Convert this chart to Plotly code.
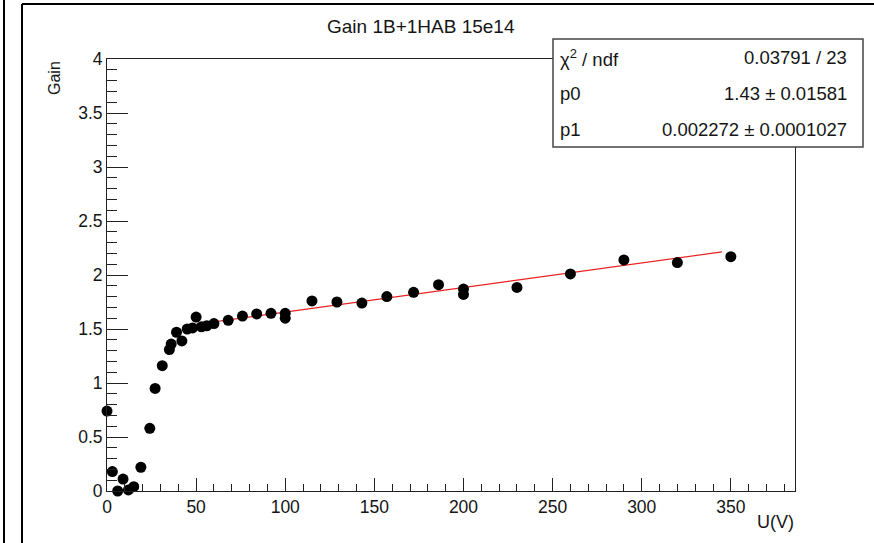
import plotly.graph_objects as go
import numpy as np

# ---- data ----
voltage = [0, 3, 6, 9, 12, 15, 19, 24, 27, 31, 35, 36, 39, 42, 45, 48, 50, 53, 56, 60,
           68, 76, 84, 92, 100, 100, 115, 129, 143, 157, 172, 186, 200, 200, 230, 260,
           290, 320, 350]
gain = [0.74, 0.18, 0.00, 0.11, 0.01, 0.04, 0.22, 0.58, 0.95, 1.16, 1.31, 1.36, 1.47,
        1.39, 1.50, 1.51, 1.61, 1.52, 1.53, 1.55, 1.58, 1.62, 1.64, 1.645, 1.645, 1.60,
        1.76, 1.75, 1.74, 1.80, 1.84, 1.91, 1.87, 1.82, 1.885, 2.01, 2.14, 2.115, 2.17]

fit_p0 = 1.43
fit_p1 = 0.002272
fit_range = [48, 345]

title_text = "Gain 1B+1HAB 15e14"
stat_labels = ["χ<sup>2</sup> / ndf", "p0", "p1"]
stat_values = ["0.03791 / 23", "1.43 ± 0.01581", "0.002272 ± 0.0001027"]

x_range = [0, 386]
y_range = [0, 4]

# ---- layout constants (pixels) ----
W, H = 874, 543
L, R, T, B = 107, 795, 59, 491
pw, ph = R - L, B - T


def px_x(p):
    return (p - L) / pw


def px_y(p):
    return (B - p) / ph


FONT = "Liberation Sans, Arial, Helvetica, sans-serif"
TXT = "#151515"

fig = go.Figure()

fx = np.linspace(fit_range[0], fit_range[1], 50)
fig.add_trace(go.Scatter(x=fx, y=fit_p0 + fit_p1 * fx, mode="lines",
                         line=dict(color="#e8211f", width=1.2),
                         hoverinfo="skip", showlegend=False))
fig.add_trace(go.Scatter(x=voltage, y=gain, mode="markers", cliponaxis=False,
                         marker=dict(color="black", size=11),
                         showlegend=False))

axis_common = dict(showgrid=False, zeroline=False, showline=True, linecolor="#222",
                   linewidth=1, mirror=True, ticks="inside", tickcolor="#222",
                   tickfont=dict(family=FONT, size=17.5, color=TXT))

fig.update_xaxes(range=x_range, tickvals=[0, 50, 100, 150, 200, 250, 300, 350],
                 ticklen=13, tickwidth=1,
                 minor=dict(dtick=10, tick0=0, ticklen=7, ticks="inside", tickcolor="#222"),
                 **axis_common)
fig.update_yaxes(range=y_range, tickvals=[0, 0.5, 1, 1.5, 2, 2.5, 3, 3.5, 4],
                 ticktext=["0", "0.5", "1", "1.5", "2", "2.5", "3", "3.5", "4"],
                 ticklen=21, tickwidth=1,
                 minor=dict(dtick=0.1, tick0=0, ticklen=10, ticks="inside", tickcolor="#222"),
                 **axis_common)

shapes = [
    # outer canvas frame
    dict(type="line", xref="paper", yref="paper", x0=px_x(4), x1=px_x(4),
         y0=px_y(0), y1=px_y(H), line=dict(color="black", width=2)),
    dict(type="line", xref="paper", yref="paper", x0=px_x(22), x1=px_x(22),
         y0=px_y(4), y1=px_y(H), line=dict(color="black", width=2)),
    dict(type="line", xref="paper", yref="paper", x0=px_x(22), x1=px_x(W),
         y0=px_y(4), y1=px_y(4), line=dict(color="black", width=2)),
    # stat box
    dict(type="rect", xref="paper", yref="paper", x0=px_x(553), x1=px_x(863),
         y0=px_y(147), y1=px_y(39), fillcolor="white",
         line=dict(color="#444", width=1.5), layer="above"),
]

annotations = [
    dict(text=title_text, xref="paper", yref="paper", x=px_x(421), y=px_y(27),
         showarrow=False, font=dict(family=FONT, size=19, color=TXT),
         xanchor="center", yanchor="middle"),
    dict(text="Gain", xref="paper", yref="paper", x=px_x(54), y=px_y(59),
         textangle=-90, showarrow=False, font=dict(family=FONT, size=16, color=TXT),
         xanchor="center", yanchor="top"),
    dict(text="U(V)", xref="paper", yref="paper", x=px_x(796), y=px_y(522),
         showarrow=False, font=dict(family=FONT, size=18, color=TXT),
         xanchor="right", yanchor="middle"),
]
row_y = [58, 93, 129]
for lab, val, yy in zip(stat_labels, stat_values, row_y):
    annotations.append(dict(text=lab, xref="paper", yref="paper", x=px_x(558), y=px_y(yy),
                            showarrow=False, xanchor="left", yanchor="middle",
                            font=dict(family=FONT, size=18.5, color=TXT)))
    annotations.append(dict(text=val, xref="paper", yref="paper", x=px_x(849), y=px_y(yy),
                            showarrow=False, xanchor="right", yanchor="middle",
                            font=dict(family=FONT, size=18.5, color=TXT)))

fig.update_layout(width=W, height=H, margin=dict(l=L, r=W - R, t=T, b=H - B),
                  paper_bgcolor="white", plot_bgcolor="white",
                  shapes=shapes, annotations=annotations, showlegend=False)

fig.write_html("out.html")
